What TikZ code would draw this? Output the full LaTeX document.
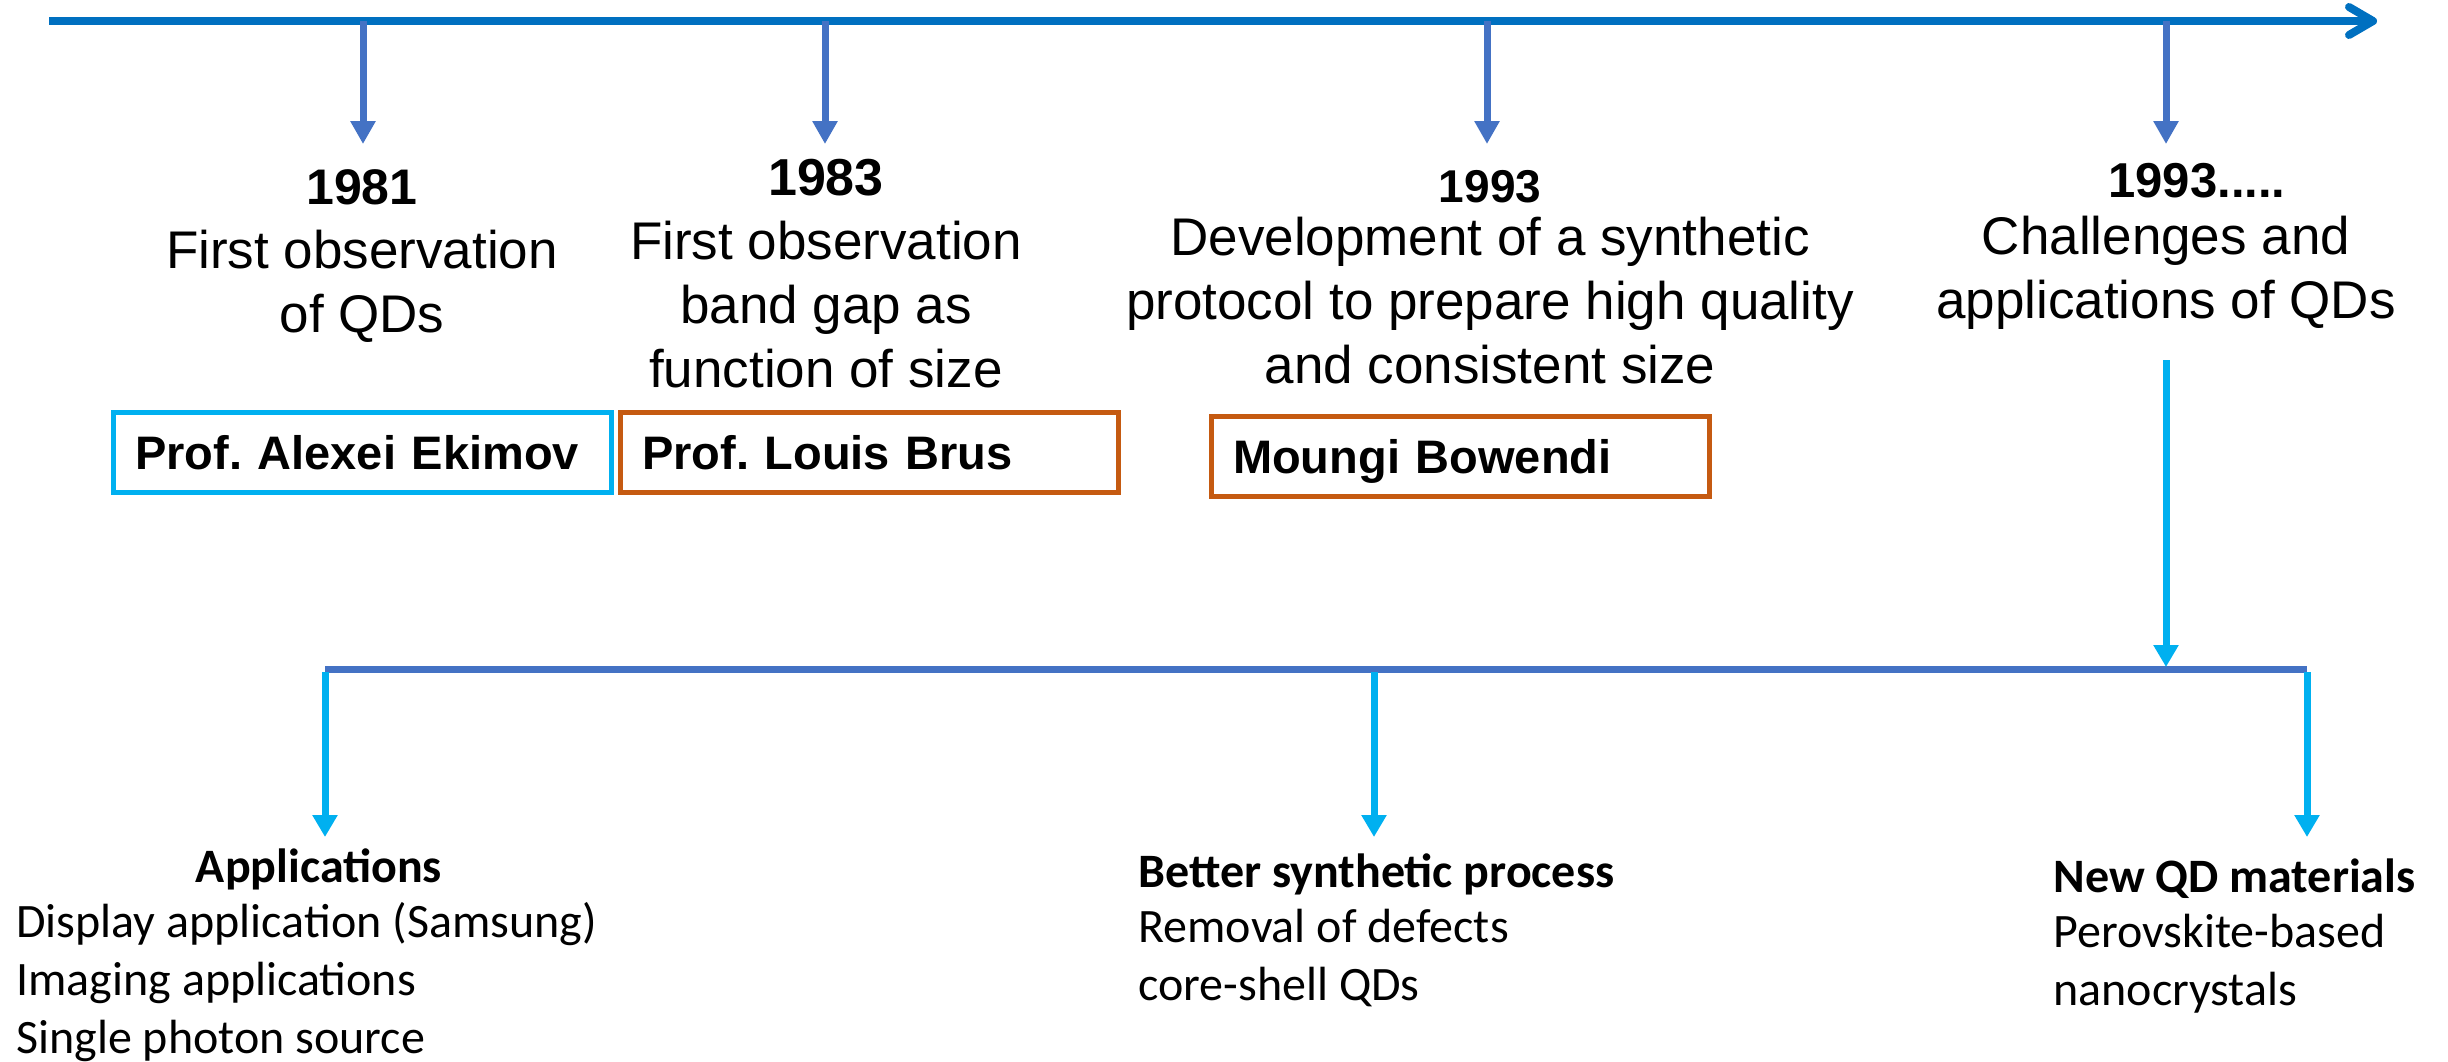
\documentclass[tikz,border=0pt]{standalone}
\usepackage{fontspec}
\setmainfont{Liberation Sans}
\newfontfamily\calib{Carlito}
\usetikzlibrary{arrows.meta}
\definecolor{axisblue}{HTML}{0070C0}
\definecolor{tickblue}{HTML}{4472C4}
\definecolor{skyblue}{HTML}{00B0F0}
\definecolor{rust}{HTML}{C55A11}

\begin{document}
\begin{tikzpicture}[x=0.5pt,y=-0.5pt,
  axisline/.style={draw=axisblue,line width=4pt,
    -{Straight Barb[length=12pt,width=14pt,line cap=round,line join=round]}},
  tick/.style={draw=tickblue,line width=3.5pt,-{Triangle[width=12pt,length=11.5pt]}},
  branch/.style={draw=skyblue,line width=3.5pt,-{Triangle[width=12pt,length=11pt]}},
  bar/.style={draw=tickblue,line width=3.5pt},
  year/.style={font=\fontsize{25}{30}\selectfont\bfseries,inner sep=0pt,anchor=base},
  % multi-line blocks are anchored at the baseline of their last line
  desc/.style={font=\fontsize{26.5}{32}\selectfont,inner sep=0pt,align=center,anchor=base},
  namebox/.style={draw,line width=2.5pt,minimum height=40pt,inner xsep=11pt,
    text width=227pt,align=left,text height=17pt,text depth=0pt,
    font=\fontsize{23.5}{28}\selectfont\bfseries},
  bhead/.style={font=\calib\fontsize{24}{29}\selectfont\bfseries,inner sep=0pt,anchor=base},
  blist/.style={font=\calib\fontsize{24}{28.8}\selectfont,inner sep=0pt,align=left,anchor=base west}
]
\useasboundingbox (0,0) rectangle (2448,1061);

% time axis
\coordinate (axisL) at (49,21);
\coordinate (axisR) at (2377,21);
\draw[axisline] (axisL) -- (axisR);

% tick positions on the axis and arrow tips below them
\coordinate (t1) at (363,21);  \coordinate (p1) at (363,144);
\coordinate (t2) at (825,21);  \coordinate (p2) at (825,144);
\coordinate (t3) at (1487,21); \coordinate (p3) at (1487,144);
\coordinate (t4) at (2166,21); \coordinate (p4) at (2166,144);
\draw[tick] (t1) -- (p1);
\draw[tick] (t2) -- (p2);
\draw[tick] (t3) -- (p3);
\draw[tick] (t4) -- (p4);

% milestones
\node[year] (y1981) at (362,204) {1981};
\node[desc] (d1981) at (362,332) {First observation\\of QDs};
\node[year,font=\fontsize{26}{30}\selectfont\bfseries] (y1983) at (826,195) {1983};
\node[desc] (d1983) at (826,387) {First observation\\band gap as\\function of size};
\node[year,font=\fontsize{23}{28}\selectfont\bfseries] (y1993) at (1490,202) {1993};
\node[desc] (d1993) at (1490,383) {Development of a synthetic\\protocol to prepare high quality\\and consistent size};
\node[year,anchor=base west,font=\fontsize{24.5}{28}\selectfont\bfseries] (y1993b) at (2108,197) {1993.....};
\node[desc] (dnow) at (2166,318) {Challenges and\\applications of QDs};

% names
\node[namebox,draw=skyblue] (ekimov) at (362,452) {Prof.\ Alexei Ekimov};
\node[namebox,draw=rust] (brus) at (869,452) {Prof.\ Louis Brus};
\node[namebox,draw=rust] (bawendi) at (1460,456) {Moungi Bowendi};

% branching
\coordinate (src) at (2166,360);
\coordinate (hub) at (2166,667);
\coordinate (barL) at (325,669);
\coordinate (barM) at (1374,669);
\coordinate (barR) at (2307,669);
\coordinate (q1) at (325,837);
\coordinate (q2) at (1374,837);
\coordinate (q3) at (2307,837);
\draw[bar] (barL) -- (barR);
\draw[branch] (src) -- (hub);
\draw[branch] ([yshift=-1.7pt]barL) -- (q1);
\draw[branch] ([yshift=-1.7pt]barM) -- (q2);
\draw[branch] ([yshift=-1.7pt]barR) -- (q3);

% outcomes
\node[bhead] (apph) at (319,882) {Applications};
\node[blist] (appl) at (16,1053) {Display application (Samsung)\\Imaging applications\\Single photon source};
\node[bhead,anchor=base west] (synh) at (1138,887) {Better synthetic process};
\node[blist] (synl) at (1138,1000) {Removal of defects\\core-shell QDs};
\node[bhead,anchor=base west] (math) at (2053,892) {New QD materials};
\node[blist] (matl) at (2053,1005) {Perovskite-based\\nanocrystals};
\end{tikzpicture}
\end{document}
